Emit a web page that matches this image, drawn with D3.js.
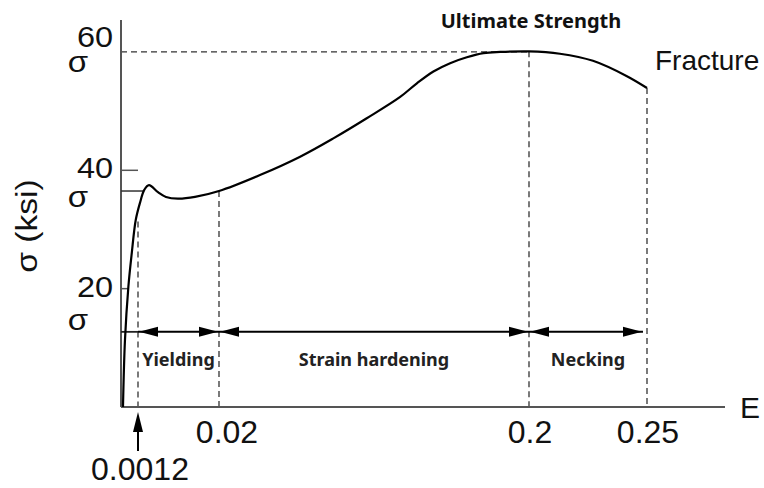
<!DOCTYPE html>
<html><head><meta charset="utf-8">
<script src="https://cdn.jsdelivr.net/npm/d3@7"></script>
<style>body{margin:0;background:#fff} svg{display:block}</style>
</head><body>
<svg id="chart" width="764" height="488"></svg>
<script>
// ---- data ----
const strain = [0.00014, 0.00028, 0.00052, 0.00076, 0.00104, 0.00166, 0.00266, 0.00375, 0.00584,
  0.0077, 0.01048, 0.01443, 0.02, 0.0438, 0.0671, 0.0864, 0.1058, 0.1252, 0.1349, 0.1445, 0.1542,
  0.1639, 0.1736, 0.1833, 0.2, 0.2131, 0.2271, 0.2415, 0.25];
const stress = [0, 11.3, 20.3, 26.0, 31.6, 34.5, 36.7, 37.5, 36.3,
  35.5, 35.2, 35.5, 36.5, 39.2, 42.3, 45.4, 48.8, 52.4, 54.7, 56.7, 58.1,
  59.1, 59.8, 60.0, 60.1, 59.7, 58.5, 55.9, 53.9];
const strainBreaks = [0, 0.0012, 0.02, 0.2, 0.25, 0.283];
const xTickValues = [0.0012, 0.02, 0.2, 0.25];
const xTickLabels = ["0.0012", "0.02", "0.2", "0.25"];
const yTickValues = [20, 40, 60];
const yTickLabels = ["20", "40", "60"];
const stressMarks = [12.7, 36.5, 60];        // proportional limit, yield, ultimate
const regionNames = ["Yielding", "Strain hardening", "Necking"];
const regionStart = [0.0012, 0.02, 0.2];
const regionEnd = [0.02, 0.2, 0.2483];
const ultimateStrain = 0.2, fractureStrain = 0.25;

// ---- scales ----
const svg = d3.select("#chart");
const x = d3.scaleLinear().domain(strainBreaks).range([121, 138, 219, 529, 647, 725]);
const y = d3.scaleLinear().domain([0, 65.4]).range([407, 20]);
const pts = strain.map((s, i) => [s, stress[i]]);
const stressAt = s => { for (let i = 1; i < pts.length; i++) if (pts[i][0] >= s) { const a = pts[i-1], b = pts[i]; return a[1] + (b[1]-a[1])*(s-a[0])/(b[0]-a[0]); } return pts[pts.length-1][1]; };
const strainAtRising = v => { for (let i = 1; i < pts.length; i++) if (pts[i][1] >= v) { const a = pts[i-1], b = pts[i]; return a[0] + (b[0]-a[0])*(v-a[1])/(b[1]-a[1]); } return 0; };

const axisColor = "#555";
const sans = "'Liberation Sans', Arial, sans-serif";
const bold = "'Noto Sans', 'Open Sans', sans-serif";

// dashed guides
const dash = "6,4";
svg.append("line").attr("x1", x(0)).attr("x2", x(ultimateStrain)).attr("y1", y(60)).attr("y2", y(60))
  .attr("stroke", "#333").attr("stroke-width", 1.3).attr("stroke-dasharray", dash);
[0.0012, 0.02, ultimateStrain, fractureStrain].forEach(s => {
  svg.append("line").attr("x1", x(s)).attr("x2", x(s)).attr("y1", y(stressAt(s)) + (s === 0.0012 ? 6 : 0)).attr("y2", y(0))
    .attr("stroke", "#333").attr("stroke-width", 1.3).attr("stroke-dasharray", dash);
});

// axes
svg.append("line").attr("x1", x(0)).attr("x2", x(0)).attr("y1", y.range()[1]).attr("y2", y(0))
  .attr("stroke", axisColor).attr("stroke-width", 2);
svg.append("line").attr("x1", x(0)).attr("x2", x.range()[x.range().length-1]).attr("y1", y(0)).attr("y2", y(0))
  .attr("stroke", axisColor).attr("stroke-width", 2);

// y ticks (20, 40) – short inward ticks stopping at the curve
[20, 40].forEach(v => {
  const xe = Math.min(x(0) + 17, x(strainAtRising(v)));
  svg.append("line").attr("x1", x(0)).attr("x2", xe).attr("y1", y(v)).attr("y2", y(v))
    .attr("stroke", axisColor).attr("stroke-width", 1.5);
});

// yield and proportional lines
svg.append("line").attr("x1", x(0)).attr("x2", x(strainAtRising(stressMarks[1])))
  .attr("y1", y(stressMarks[1])).attr("y2", y(stressMarks[1])).attr("stroke", "#333").attr("stroke-width", 1.5);
svg.append("line").attr("x1", x(0)).attr("x2", x(regionStart[0]))
  .attr("y1", y(stressMarks[0])).attr("y2", y(stressMarks[0])).attr("stroke", "#222").attr("stroke-width", 1.8);

// curve
svg.append("path").datum(pts)
  .attr("d", d3.line().x(d => x(d[0])).y(d => y(d[1])).curve(d3.curveCatmullRom.alpha(0.5)))
  .attr("fill", "none").attr("stroke", "#000").attr("stroke-width", 2.2);

// region arrows
function head(tx, ty, dir) { // dir: +1 points right, -1 points left
  const L = 19, H = 5;
  svg.append("path").attr("d", `M${tx},${ty} L${tx - dir*L},${ty - H} L${tx - dir*L},${ty + H} Z`).attr("fill", "#000");
}
const ya = y(stressMarks[0]);
regionNames.forEach((name, i) => {
  const x1 = x(regionStart[i]), x2 = x(regionEnd[i]);
  svg.append("line").attr("x1", x1).attr("x2", x2).attr("y1", ya).attr("y2", ya).attr("stroke", "#000").attr("stroke-width", 2);
  head(x1 + 1, ya, -1); head(x2 - 1, ya, 1);
  svg.append("text").attr("x", (x1 + x(i === 2 ? fractureStrain : regionEnd[i])) / 2).attr("y", ya + 34)
    .attr("text-anchor", "middle").attr("font-family", bold).attr("font-weight", 700).attr("font-size", 18)
    .attr("fill", "#222").text(name);
});

// strain 0.0012 pointer
const xp = x(xTickValues[0]);
svg.append("line").attr("x1", xp).attr("x2", xp).attr("y1", 451).attr("y2", 425).attr("stroke", "#000").attr("stroke-width", 2);
svg.append("path").attr("d", `M${xp},${412} L${xp-5},${432} L${xp+5},${432} Z`).attr("fill", "#000");

// x tick labels
xTickLabels.forEach((lab, i) => {
  const first = i === 0;
  const dx = i === 1 ? 8 : 1;
  svg.append("text").attr("x", x(xTickValues[i]) + (first ? 2 : dx)).attr("y", first ? 480 : 443)
    .attr("text-anchor", "middle").attr("font-family", sans).attr("font-size", 32).attr("fill", "#111").text(lab);
});
svg.append("text").attr("x", 740).attr("y", 418).attr("font-family", sans).attr("font-size", 30).attr("fill", "#111").text("E");

// y tick labels
yTickLabels.forEach((lab, i) => {
  const ty = y(yTickValues[i]) + (i === 2 ? -5 : 8);
  svg.append("text").attr("transform", `translate(113,${ty}) scale(1.12,1)`)
    .attr("text-anchor", "end").attr("font-family", sans).attr("font-size", 29).attr("fill", "#111").text(lab);
});
// sigma markers
const sigOff = [-2, 16, 20];
stressMarks.forEach((v, i) => {
  svg.append("text").attr("transform", `translate(78,${y(v) + sigOff[i]}) scale(1.1,1)`)
    .attr("text-anchor", "middle").attr("font-family", sans).attr("font-size", 30).attr("fill", "#111").text("σ");
});

// y axis title
svg.append("text").attr("transform", "translate(37,226) rotate(-90) scale(1.12,1)")
  .attr("text-anchor", "middle").attr("font-family", sans).attr("font-size", 30).attr("fill", "#111").text("σ (ksi)");

// annotations
svg.append("text").attr("x", x(ultimateStrain) + 2).attr("y", 28).attr("text-anchor", "middle")
  .attr("font-family", bold).attr("font-weight", 700).attr("font-size", 20).attr("fill", "#111").text("Ultimate Strength");
svg.append("text").attr("x", 655).attr("y", 70).attr("font-family", sans).attr("font-size", 28).attr("fill", "#111").text("Fracture");
</script>
</body></html>
